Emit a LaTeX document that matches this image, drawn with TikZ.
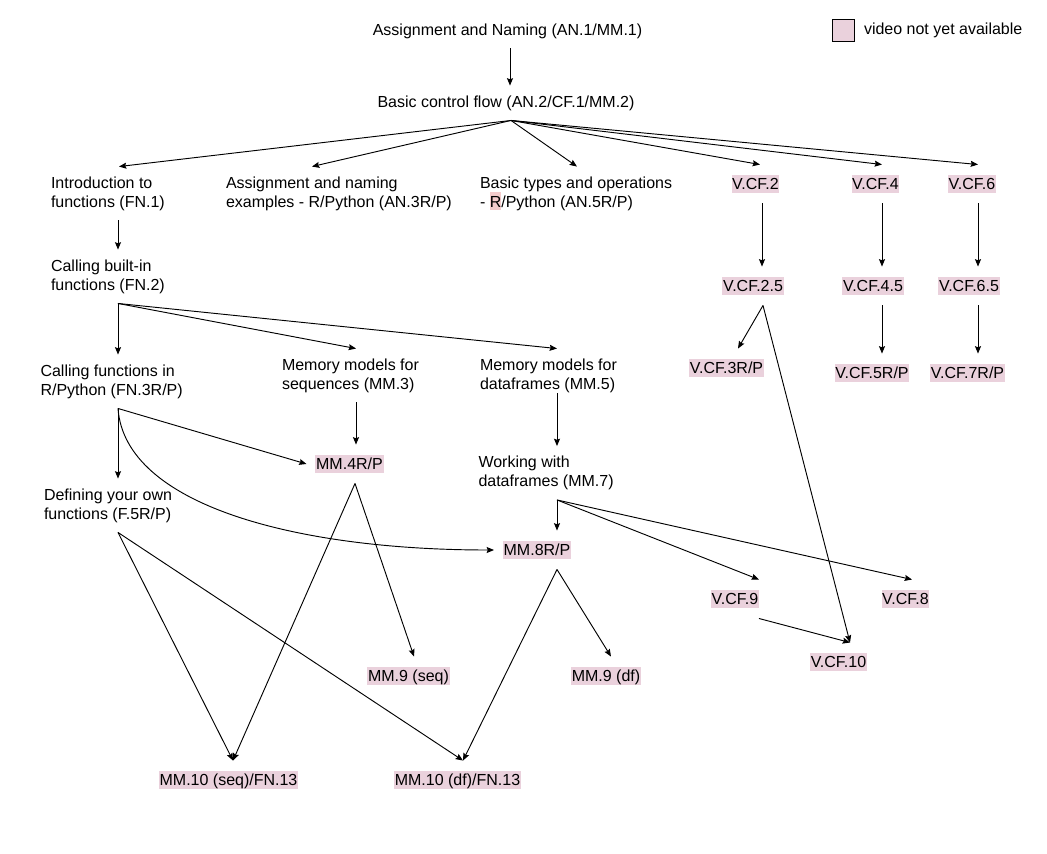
\documentclass[tikz,border=0pt]{standalone}
\usepackage{fontspec}
\setmainfont{Liberation Sans}
\usetikzlibrary{calc,arrows.meta}
\definecolor{pendpink}{HTML}{EAD1DC}
\definecolor{rmark}{HTML}{F4CCCC}
\newcommand{\markR}{{\setlength{\fboxsep}{0pt}\colorbox{rmark}{\rule[-2.25pt]{0pt}{13.5pt}R}}}
\begin{document}
\begin{tikzpicture}[x=0.75pt,y=-0.75pt,
  every node/.style={font=\fontsize{12pt}{14.25pt}\selectfont, inner sep=0pt,
    outer xsep=0pt, outer ysep=7.5pt},
  lbl/.style={align=left, anchor=west},
  pend/.style={fill=pendpink, inner xsep=0.5pt, inner ysep=0pt,
    text height=10.5pt, text depth=2.7pt, outer ysep=8pt},
  arr/.style={-{Stealth[length=5.5pt,width=4.5pt,inset=0.8pt]}, line width=0.7pt}
]
\useasboundingbox (0,0) rectangle (1047,854);
\fill[white] (0,0) rectangle (1047,854);

% legend
\node[draw, fill=pendpink, line width=0.6pt, minimum width=16.5pt, minimum height=16.5pt, outer ysep=0pt] (legbox) at (843,30) {};
\node[anchor=west] (legtxt) at (864,30) {video not yet available};

% top of the tree
\node (an1) at (507.5,31) {Assignment and Naming (AN.1/MM.1)};
\node (cf1) at (506,103) {Basic control flow (AN.2/CF.1/MM.2)};

% second row
\node[lbl] (fn1) at (51,193.5) {Introduction to\\functions (FN.1)};
\node[lbl] (an3) at (226,193.5) {Assignment and naming\\examples - R/Python (AN.3R/P)};
\node[lbl] (an5) at (480,193.5) {Basic types and operations\\- \markR/Python (AN.5R/P)};
\node[pend] (vcf2) at (755.5,184) {V.CF.2};
\node[pend] (vcf4) at (875.5,184) {V.CF.4};
\node[pend] (vcf6) at (972,184) {V.CF.6};

% functions column
\node[lbl] (fn2) at (51,276.5) {Calling built-in\\functions (FN.2)};
\node[lbl] (fn3) at (40.5,381.5) {Calling functions in\\R/Python (FN.3R/P)};
\node[lbl] (f5) at (44,505.5) {Defining your own\\functions (F.5R/P)};

% memory models
\node[lbl] (mm3) at (282,375.5) {Memory models for\\sequences (MM.3)};
\node[lbl] (mm5) at (480,375.5) {Memory models for\\dataframes (MM.5)};
\node[pend] (mm4) at (349.5,464) {MM.4R/P};
\node[lbl] (mm7) at (478.5,473) {Working with\\dataframes (MM.7)};
\node[pend] (mm8) at (537,550) {MM.8R/P};
\node[pend] (mm9s) at (408.5,676) {MM.9 (seq)};
\node[pend] (mm9d) at (606,676) {MM.9 (df)};
\node[pend] (mm10s) at (228.5,780) {MM.10 (seq)/FN.13};
\node[pend] (mm10d) at (457.5,780) {MM.10 (df)/FN.13};

% control flow videos
\node[pend] (vcf25) at (753,286) {V.CF.2.5};
\node[pend] (vcf45) at (873,286) {V.CF.4.5};
\node[pend] (vcf65) at (969,286) {V.CF.6.5};
\node[pend] (vcf3) at (726.5,368) {V.CF.3R/P};
\node[pend] (vcf5) at (872,373) {V.CF.5R/P};
\node[pend] (vcf7) at (967.5,373) {V.CF.7R/P};
\node[pend] (vcf9) at (735,599) {V.CF.9};
\node[pend] (vcf8) at (905.5,599) {V.CF.8};
\node[pend] (vcf10) at (838.5,662) {V.CF.10};

% connectors
\draw[arr] ($(an1.south)+(2.5,0)$) -- ($(an1.south |- cf1.north)+(2.5,0)$);

\draw[arr] ($(cf1.south)+(5,0)$) -- ($(fn1.north west)+(68,0)$);
\draw[arr] ($(cf1.south)+(5,0)$) -- ($(an3.north west)+(86,0)$);
\draw[arr] ($(cf1.south)+(5,0)$) -- ($(an5.north west)+(97,0)$);
\draw[arr] ($(cf1.south)+(5,0)$) -- ($(vcf2.north)+(4.5,0)$);
\draw[arr] ($(cf1.south)+(5,0)$) -- ($(vcf4.north)+(6.5,0)$);
\draw[arr] ($(cf1.south)+(5,0)$) -- ($(vcf6.north)+(6,0)$);

\draw[arr] ($(fn1.south west)+(67,0)$) -- ($(fn2.north west)+(67,0)$);

\draw[arr] ($(fn2.south west)+(67,0)$) -- ($(fn3.north west)+(77.5,0)$);
\draw[arr] ($(fn2.south west)+(67,0)$) -- ($(mm3.north west)+(74,0)$);
\draw[arr] ($(fn2.south west)+(67,0)$) -- ($(mm5.north west)+(77,0)$);

\draw[arr] ($(fn3.south west)+(77.5,0)$) -- ($(f5.north west)+(74,0)$);
\draw[arr] ($(fn3.south west)+(77.5,0)$) -- ($(mm4.west)+(-9,0)$);
\draw[arr] ($(fn3.south west)+(77.5,0)$) .. controls +(7,97) and +(-197,0) .. ($(mm8.west)+(-9,0)$);

\draw[arr] ($(mm3.south west)+(74,0)$) -- ($(mm4.north)+(6.5,0)$);
\draw[arr] ($(mm5.south west)+(77,-9)$) -- ($(mm7.north west)+(78.5,0)$);

\draw[arr] ($(mm7.south west)+(78.5,0)$) -- ($(mm8.north)+(20,0)$);
\draw[arr] ($(mm7.south west)+(78.5,0)$) -- (vcf9.north east);
\draw[arr] ($(mm7.south west)+(78.5,0)$) -- ($(vcf8.north)+(6.5,0)$);

\draw[arr] ($(mm4.south)+(5.5,0)$) -- ($(mm10s.north)+(4.5,0)$);
\draw[arr] ($(mm4.south)+(5.5,0)$) -- ($(mm9s.north)+(5.5,0)$);

\draw[arr] ($(f5.south west)+(74,0)$) -- ($(mm10s.north)+(4.5,0)$);
\draw[arr] ($(f5.south west)+(74,0)$) -- ($(mm10d.north)+(5.5,0)$);

\draw[arr] ($(mm8.south)+(20,0)$) -- ($(mm9d.north)+(5,0)$);
\draw[arr] ($(mm8.south)+(20,0)$) -- ($(mm10d.north)+(5.5,0)$);

\draw[arr] ($(vcf2.south)+(6.5,0)$) -- ($(vcf25.north)+(9,0)$);
\draw[arr] ($(vcf4.south)+(6.5,0)$) -- ($(vcf45.north)+(9,0)$);
\draw[arr] ($(vcf6.south)+(6,0)$) -- ($(vcf65.north)+(9,0)$);
\draw[arr] ($(vcf45.south)+(9,0)$) -- ($(vcf5.north)+(10,0)$);
\draw[arr] ($(vcf65.south)+(9,0)$) -- ($(vcf7.north)+(10.5,0)$);

\draw[arr] ($(vcf25.south)+(10,0)$) -- ($(vcf3.north)+(11.5,0)$);
\draw[arr] ($(vcf25.south)+(10,0)$) -- ($(vcf10.north)+(11.5,0)$);
\draw[arr] (vcf9.south east) -- ($(vcf10.north)+(11.5,0)$);
\end{tikzpicture}
\end{document}
